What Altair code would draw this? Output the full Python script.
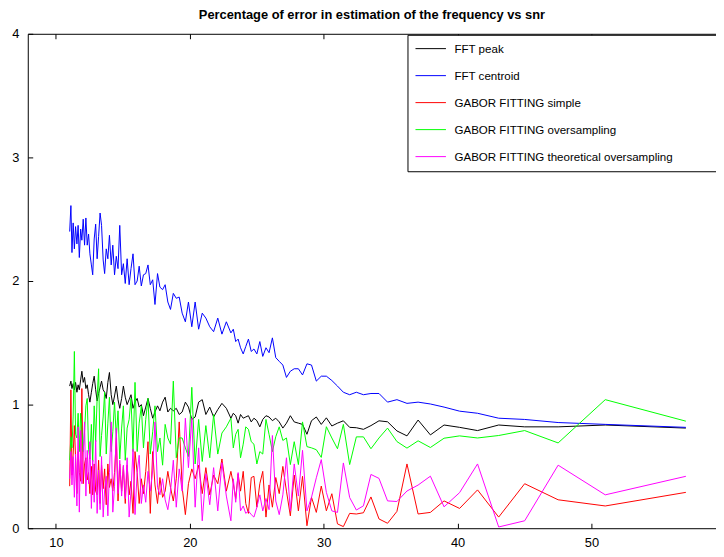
import altair as alt
import pandas as pd

# x values (snr, dB)
snr = [11.03, 11.12, 11.20, 11.29, 11.38, 11.47, 11.57, 11.66, 11.75, 11.85,
       11.94, 12.04, 12.14, 12.24, 12.34, 12.44, 12.54, 12.65, 12.75, 12.86,
       12.97, 13.08, 13.19, 13.30, 13.41, 13.53, 13.64, 13.76, 13.88, 14.00,
       14.13, 14.25, 14.38, 14.51, 14.64, 14.77, 14.91, 15.04, 15.18, 15.32,
       15.47, 15.61, 15.76, 15.91, 16.07, 16.22, 16.38, 16.54, 16.71, 16.88,
       17.05, 17.23, 17.40, 17.59, 17.77, 17.97, 18.16, 18.36, 18.56, 18.77,
       18.99, 19.21, 19.43, 19.67, 19.90, 20.15, 20.40, 20.66, 20.93, 21.20,
       21.49, 21.78, 22.09, 22.40, 22.73,
       23.07, 23.25, 23.43, 23.61, 23.79, 23.99, 24.18, 24.38, 24.59, 24.79,
       25.01, 25.23, 25.45, 25.69, 25.92, 26.17, 26.42, 26.68, 26.95, 27.22,
       27.51, 27.80, 28.11, 28.42, 28.75, 29.09, 29.45, 29.82, 30.20, 30.61,
       31.03, 31.47, 31.94, 32.44, 32.97, 33.53, 34.13, 34.77, 35.47, 36.22,
       37.05, 37.97, 38.99, 40.15, 41.49, 43.07, 45.01, 47.51, 51.03, 57.05]

fft_peak = [1.15, 1.19, 1.13, 1.17, 1.12, 1.18, 1.10, 1.16, 1.12, 1.20,
            1.27, 1.18, 1.22, 1.13, 1.16, 1.08, 1.02, 1.10, 1.17, 1.23,
            1.12, 1.03, 1.09, 1.14, 1.19, 1.12, 1.10, 1.05, 1.18, 1.26,
            1.08, 1.00, 1.07, 1.15, 1.04, 0.97, 1.05, 1.15, 1.06, 1.00,
            1.04, 1.08, 0.97, 1.02, 1.05, 0.98, 1.00, 0.91, 0.98, 1.05,
            0.97, 0.89, 0.94, 0.99, 0.95, 1.02, 1.06, 0.94, 0.97, 0.95,
            0.97, 0.92, 0.94, 1.02, 0.98, 0.88, 0.90, 1.02, 1.04, 0.92,
            0.98, 0.90, 0.96, 1.01, 0.97,
            0.89, 0.93, 0.91, 0.85, 0.92, 0.89, 0.90, 0.91, 0.86, 0.89,
            0.87, 0.82, 0.88, 0.91, 0.90, 0.87, 0.89, 0.86, 0.81, 0.85,
            0.91, 0.86, 0.85, 0.84, 0.76, 0.87, 0.90, 0.84, 0.893, 0.827,
            0.85, 0.869, 0.816, 0.813, 0.80, 0.83, 0.869, 0.861, 0.787, 0.747,
            0.875, 0.755, 0.835, 0.816, 0.79, 0.835, 0.82, 0.82, 0.835, 0.81]

fft_centroid = [2.40, 2.61, 2.23, 2.47, 2.26, 2.44, 2.30, 2.45, 2.19, 2.42,
                2.33, 2.50, 2.29, 2.51, 2.29, 2.38, 2.22, 2.13, 2.05, 2.34,
                2.46, 2.18, 2.36, 2.55, 2.45, 2.17, 2.06, 2.26, 2.18, 2.37,
                2.13, 2.29, 2.05, 2.20, 2.10, 2.45, 2.05, 2.14, 1.98, 2.18,
                1.97, 2.10, 2.22, 1.97, 2.00, 2.12, 1.96, 2.05, 2.06, 2.13,
                1.97, 2.01, 1.81, 2.06, 1.95, 1.93, 1.97, 1.83, 1.77, 1.90,
                1.86, 1.87, 1.74, 1.67, 1.83, 1.63, 1.83, 1.61, 1.74, 1.70,
                1.63, 1.59, 1.70, 1.57, 1.67,
                1.58, 1.61, 1.51, 1.53, 1.46, 1.41, 1.47, 1.53, 1.43, 1.45,
                1.41, 1.51, 1.39, 1.46, 1.42, 1.54, 1.38, 1.35, 1.32, 1.22,
                1.27, 1.29, 1.29, 1.24, 1.33, 1.32, 1.19, 1.23, 1.23, 1.195,
                1.15, 1.10, 1.08, 1.10, 1.08, 1.09, 1.09, 1.02, 1.04, 1.01,
                1.02, 1.005, 0.98, 0.947, 0.93, 0.89, 0.88, 0.855, 0.84, 0.816]

gabor_simple = [0.34, 1.12, 0.43, 0.60, 0.83, 0.57, 0.28, 0.62, 0.45, 0.38,
                1.13, 0.36, 0.52, 0.57, 0.39, 0.45, 0.28, 0.50, 0.27, 0.52,
                0.30, 0.27, 0.55, 0.20, 0.51, 0.32, 0.48, 0.19, 0.52, 0.33,
                0.40, 0.30, 0.45, 0.73, 0.22, 0.52, 0.30, 0.50, 0.20, 0.51,
                0.27, 0.38, 0.12, 0.62, 0.45, 0.20, 0.40, 0.28, 0.46, 0.70,
                0.12, 0.62, 0.35, 0.20, 0.41, 0.25, 0.30, 0.46, 0.33, 0.22,
                0.40, 0.86, 0.33, 0.11, 0.36, 0.48, 0.40, 0.51, 0.28, 0.49,
                0.27, 0.43, 0.36, 0.56, 0.30,
                0.46, 0.36, 0.24, 0.44, 0.30, 0.46, 0.20, 0.12, 0.41, 0.42,
                0.17, 0.36, 0.46, 0.09, 0.35, 0.17, 0.41, 0.28, 0.50, 0.30,
                0.10, 0.43, 0.14, 0.42, 0.02, 0.25, 0.128, 0.341, 0.141, 0.279,
                0.035, 0.013, 0.12, 0.115, 0.125, 0.253, 0.075, 0.04, 0.136, 0.52,
                0.115, 0.128, 0.221, 0.16, 0.31, 0.09, 0.36, 0.23, 0.18, 0.29]

gabor_over = [0.55, 0.74, 0.65, 0.90, 1.43, 0.76, 0.73, 0.93, 0.62, 0.93,
              0.81, 0.62, 0.78, 0.99, 1.05, 0.64, 0.56, 0.84, 0.54, 0.99,
              0.70, 1.05, 1.29, 0.58, 0.75, 0.90, 1.10, 0.60, 0.85, 1.06,
              0.62, 0.78, 1.02, 0.73, 0.95, 0.56, 0.81, 0.99, 0.55, 0.81,
              0.88, 1.05, 0.62, 1.18, 0.62, 0.85, 0.99, 0.65, 0.88, 1.05,
              0.60, 0.78, 0.99, 0.62, 0.73, 0.51, 0.84, 0.73, 0.68, 1.19,
              0.57, 0.73, 0.73, 0.65, 0.58, 1.14, 0.52, 0.88, 0.54, 0.83,
              0.57, 0.92, 0.60, 0.77, 0.82,
              0.89, 0.65, 0.76, 0.80, 0.57, 0.68, 0.82, 0.80, 0.70, 0.68,
              0.52, 0.62, 0.60, 0.88, 0.76, 0.62, 0.74, 0.82, 0.71, 0.73,
              0.515, 0.70, 0.515, 0.86, 0.66, 0.65, 0.635, 0.573, 0.821, 0.73,
              0.643, 0.84, 0.515, 0.739, 0.739, 0.643, 0.73, 0.81, 0.701, 0.648,
              0.707, 0.653, 0.728, 0.747, 0.73, 0.75, 0.79, 0.69, 1.04, 0.866]

gabor_theo = [0.40, 0.62, 0.35, 0.58, 0.25, 0.60, 0.18, 0.82, 0.13, 0.79,
              0.36, 0.60, 0.86, 0.26, 0.63, 0.36, 0.70, 0.16, 0.55, 0.21,
              0.71, 0.12, 0.47, 0.15, 0.58, 0.09, 0.31, 0.42, 0.10, 0.45,
              0.86, 0.13, 0.34, 0.81, 0.28, 0.55, 0.26, 0.51, 0.24, 0.57,
              0.09, 0.30, 0.64, 0.11, 0.45, 0.59, 0.20, 0.35, 0.21, 0.46,
              0.30, 0.47, 0.86, 0.33, 0.27, 0.40, 0.23, 0.15, 0.30, 0.55,
              0.17, 0.48, 0.30, 0.89, 0.49, 0.89, 0.17, 0.65, 0.06, 0.44,
              0.19, 0.49, 0.14, 0.53, 0.26,
              0.06, 0.40, 0.21, 0.45, 0.14, 0.18, 0.12, 0.14, 0.11, 0.09,
              0.17, 0.27, 0.14, 0.24, 0.15, 0.75, 0.22, 0.11, 0.27, 0.57,
              0.14, 0.52, 0.26, 0.63, 0.14, 0.25, 0.408, 0.555, 0.29, 0.14,
              0.128, 0.528, 0.248, 0.147, 0.181, 0.435, 0.403, 0.221, 0.216, 0.301,
              0.349, 0.421, 0.173, 0.288, 0.52, 0.01, 0.06, 0.51, 0.27, 0.42]

series_names = ["FFT peak", "FFT centroid", "GABOR FITTING simple",
                "GABOR FITTING oversampling", "GABOR FITTING theoretical oversampling"]
series_colors = ["#000000", "#0000ff", "#ff0000", "#00ff00", "#ff00ff"]
series_values = [fft_peak, fft_centroid, gabor_simple, gabor_over, gabor_theo]

x_ticks = [10, 20, 30, 40, 50]
y_ticks = [0, 1, 2, 3, 4]

rows = []
for name, vals in zip(series_names, series_values):
    assert len(vals) == len(snr), (name, len(vals))
    for xv, yv in zip(snr, vals):
        rows.append({"snr": xv, "err": yv, "series": name})
df = pd.DataFrame(rows)

W, H = 696, 500
FONT = "Liberation Sans"
x_scale = alt.Scale(domain=[7.9, 59.3], nice=False, zero=False)
y_scale = alt.Scale(domain=[0, 4], nice=False)

base = alt.Chart(df)

lines = base.mark_line(strokeWidth=1, clip=True).encode(
    x=alt.X("snr:Q", scale=x_scale,
            axis=alt.Axis(orient="bottom", values=x_ticks, ticks=False, domain=True,
                          domainColor="black", domainWidth=1, grid=False, title=None,
                          labelFontSize=13, labelFont=FONT, labelColor="black",
                          labelPadding=8)),
    y=alt.Y("err:Q", scale=y_scale,
            axis=alt.Axis(orient="left", values=y_ticks, ticks=False, domain=True,
                          domainColor="black", domainWidth=1, grid=False, title=None,
                          labelFontSize=13, labelFont=FONT, labelColor="black",
                          labelPadding=9)),
    color=alt.Color("series:N", sort=series_names,
                    scale=alt.Scale(domain=series_names, range=series_colors),
                    legend=alt.Legend(title=None, orient="none", legendX=384, legendY=1,
                                      direction="vertical", fillColor="white",
                                      strokeColor="black", padding=8,
                                      symbolType="M-2.8,0L2.8,0", symbolSize=121,
                                      symbolStrokeWidth=1, symbolOffset=9.5,
                                      labelOffset=18, rowPadding=14.3,
                                      labelFontSize=11.7, labelFont=FONT,
                                      labelColor="black", labelLimit=500,
                                      labelExpr="pad(datum.label, 51, '\u00a0') + '\u200b'")),
)

inner_ticks = base.mark_line(strokeOpacity=0).encode(
    x=alt.X("snr:Q", scale=x_scale,
            axis=alt.Axis(orient="top", offset=-H, values=x_ticks, labels=False,
                          domain=False, ticks=True, tickSize=5, tickColor="black",
                          grid=False, title=None)),
    y=alt.Y("err:Q", scale=y_scale,
            axis=alt.Axis(orient="right", offset=-W, values=y_ticks, labels=False,
                          domain=False, ticks=True, tickSize=5, tickColor="black",
                          grid=False, title=None)),
)

top_frame = base.mark_line(strokeOpacity=0).encode(
    x=alt.X("snr:Q", scale=x_scale,
            axis=alt.Axis(orient="bottom", offset=-H, values=x_ticks, labels=False,
                          domain=True, domainColor="black", ticks=True, tickSize=5,
                          tickColor="black", grid=False, title=None)),
    y=alt.Y("err:Q", scale=y_scale, axis=None),
)

chart = alt.layer(lines, inner_ticks, top_frame).resolve_axis(
    x="independent", y="independent"
).properties(
    width=W, height=H,
    autosize=alt.AutoSizeParams(type="none"),
    padding={"left": 20, "top": 23, "right": 0, "bottom": 24},
    background="white",
    title=alt.Title("Percentage of error in estimation of the frequency vs snr",
                    fontSize=13, font=FONT, fontWeight="bold", color="black",
                    anchor="middle", offset=6),
).configure_view(stroke=None)

chart.save("out.html", embed_options={"renderer": "svg", "actions": False})
